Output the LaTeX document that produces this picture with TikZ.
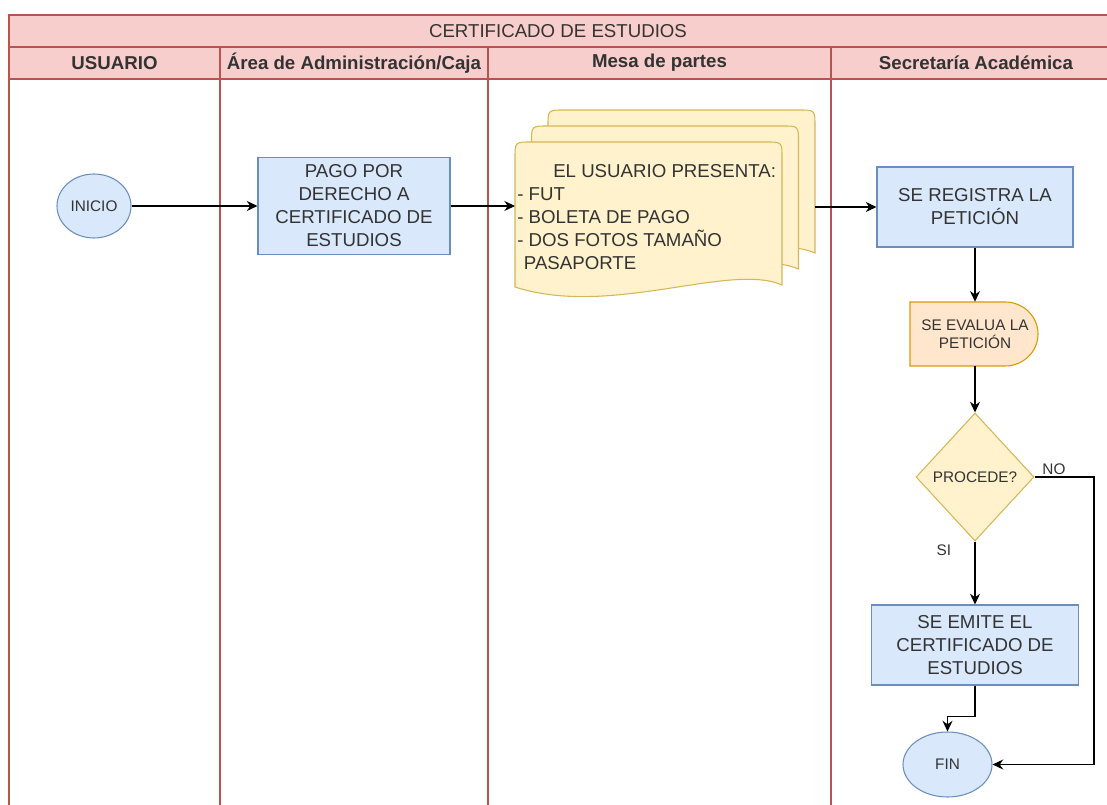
\documentclass[tikz,border=0pt]{standalone}
\usepackage{fontspec}
\setmainfont{Liberation Sans}
\usetikzlibrary{arrows.meta,positioning,shapes.geometric}

\definecolor{lanefill}{HTML}{F8CECC}
\definecolor{laneline}{HTML}{B85450}
\definecolor{procfill}{HTML}{DAE8FC}
\definecolor{procline}{HTML}{6C8EBF}
\definecolor{docfill}{HTML}{FFF2CC}
\definecolor{docline}{HTML}{D6B656}
\definecolor{evalfill}{HTML}{FFE6CC}
\definecolor{evalline}{HTML}{D79B00}
\definecolor{txt}{HTML}{333333}

\begin{document}
\begin{tikzpicture}[x=0.75pt, y=-0.75pt,
  lane/.style={draw=laneline, line width=0.9pt},
  head/.style={font=\bfseries\fontsize{14pt}{17pt}\selectfont, text=txt},
  proc/.style={draw=procline, fill=procfill, text=txt, align=center, inner sep=1pt,
    font=\fontsize{14pt}{17.25pt}\selectfont, line width=0.8pt},
  term/.style={ellipse, draw=procline, fill=procfill, text=txt, inner sep=0pt,
    font=\fontsize{11.5pt}{13.8pt}\selectfont, line width=0.8pt},
  small/.style={font=\fontsize{11.5pt}{13.8pt}\selectfont, text=txt},
  flow/.style={-{Stealth[length=8pt,width=7.5pt]}, line width=1pt}]
  \useasboundingbox (0,0) rectangle (1107,805);

  % Pool and lanes
  \fill[lanefill] (9,15) rectangle (1115,79);
  \draw[lane] (1115,15) -- (9,15) -- (9,815);
  \draw[lane] (9,47) -- (1115,47);
  \draw[lane] (9,79) -- (1115,79);
  \foreach \x in {220,488,831}
    \draw[lane] (\x,47) -- (\x,815);

  \node[font=\fontsize{14pt}{17pt}\selectfont, text=txt] (title) at (558,31) {CERTIFICADO DE ESTUDIOS};
  \node[head] (hdusr) at (114.5,63) {USUARIO};
  \node[head] (hdcaja) at (354,63) {Área de Administración/Caja};
  \node[head] (hdmesa) at (659.5,63) {Mesa de partes};
  \node[head] (hdsec) at (976,63) {Secretaría Académica};

  % Usuario and caja
  \node[term, minimum width=55.5pt, minimum height=48pt] (ini) at (94,206) {INICIO};
  \node[proc, minimum width=144pt, minimum height=72.75pt] (pago) at (354,206)
    {PAGO POR\\DERECHO A\\CERTIFICADO DE\\ESTUDIOS};

  % Mesa de partes: stacked documents
  \foreach \dx/\dy in {33/-32, 16.5/-16, 0/0}
    \draw[docline, fill=docfill, line width=0.8pt, shift={(\dx,\dy)}]
      (515,287) -- (515,158) .. controls (515,142) .. (531,142) -- (766,142)
      .. controls (782,142) .. (782,158) -- (782,285)
      .. controls (730,262) and (610,318) .. (515,287) -- cycle;
  \node[align=left, anchor=west, inner sep=1.5pt, text=txt,
    font=\fontsize{14pt}{17.25pt}\selectfont] (doctxt) at (515,217)
    {\hspace*{27pt}EL USUARIO PRESENTA:\\- FUT\\- BOLETA DE PAGO\\- DOS FOTOS TAMAÑO\\\hspace*{5pt}PASAPORTE};
  \coordinate (docin) at (515,206);
  \coordinate (docout) at (815,207);

  % Secretaria academica
  \node[proc, minimum width=147pt, minimum height=60pt] (reg) at (975,207) {SE REGISTRA LA\\PETICIÓN};
  \draw[evalline, fill=evalfill, line width=0.8pt]
    (910,302) -- (1005,302) .. controls (1023,302) and (1038,316) .. (1038,334)
    .. controls (1038,352) and (1023,366) .. (1005,366) -- (910,366) -- cycle;
  \node[small, align=center, inner sep=0pt, minimum width=96pt, minimum height=48pt]
    (eval) at (975,334) {SE EVALUA LA\\PETICIÓN};
  \node[diamond, draw=docline, fill=docfill, line width=0.8pt, inner sep=0pt,
    minimum width=88.5pt, minimum height=96pt, small] (dec) at (975,477) {PROCEDE?};
  \node[proc, minimum width=155.25pt, minimum height=60pt] (emite) at (975,645)
    {SE EMITE EL\\CERTIFICADO DE\\ESTUDIOS};
  \node[term, minimum width=66.75pt, minimum height=48.75pt] (fin) at (947.5,764.5) {FIN};
  \coordinate (noturn) at (1094,477);

  % Connectors
  \draw[flow] (ini) -- (pago);
  \draw[flow] (pago.east) -- (docin);
  \draw[flow] (docout) -- (reg.west);
  \draw[flow] (reg) -- (eval);
  \draw[flow] (eval) -- (dec);
  \draw[flow] (dec.south) -- node[small, pos=0.14, left=14pt] {SI} (emite.north);
  \draw[flow] (dec.east) -- node[small, pos=0.1, anchor=south west, inner sep=1pt] {NO} (noturn) |- (fin.east);
  \draw[flow] (emite.south) -- ++(0,31) -| (fin.north);
\end{tikzpicture}
\end{document}
